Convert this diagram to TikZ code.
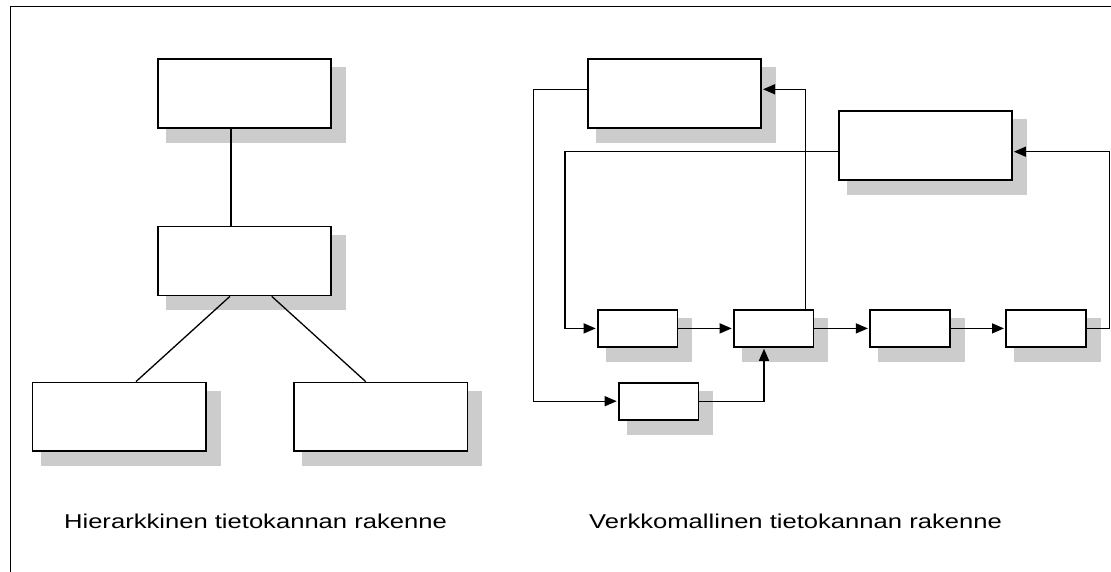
\documentclass[tikz,border=0pt]{standalone}
\usepackage{fontspec}
\setmainfont{Liberation Sans}
\usetikzlibrary{arrows.meta,backgrounds}
\definecolor{shadowgray}{HTML}{CCCCCC}
\tikzset{
  bigbox/.style={draw, fill=white, line width=1.8pt, inner sep=0pt, minimum width=173.4pt, minimum height=68.8pt},
  smallbox/.style={draw, fill=white, line width=1.8pt, inner sep=0pt, minimum width=79.8pt, minimum height=36.9pt},
  conn/.style={line width=1.3pt},
  arr/.style={line width=1.3pt, -{Triangle[length=12pt,width=10pt]}, shorten >=1pt},
  lbl/.style={inner sep=0pt, anchor=base, font=\fontsize{20}{24}\selectfont},
}
\newcommand{\dropshade}[1]{\fill[shadowgray] ([shift={(9pt,-9pt)}]#1.north west) rectangle ([shift={(14pt,-14pt)}]#1.south east);}
\begin{document}
\begin{tikzpicture}[x=1pt,y=-1pt]
\useasboundingbox (0,0) rectangle (1111,572);
% frame
\draw[line width=1.5pt] (10.7,572) -- (10.7,6.7) -- (1111,6.7);
% hierarchy
\node[bigbox] (h1) at (244.5,93.6) {};
\node[bigbox] (h2) at (244.5,261) {};
\node[bigbox] (h3) at (119.2,416.9) {};
\node[bigbox] (h4) at (380.8,416.9) {};
% network
\node[bigbox] (a) at (674.4,93.6) {};
\node[bigbox] (b) at (925.3,145.8) {};
\node[smallbox] (c) at (637.5,328.4) {};
\node[smallbox] (d) at (773.5,328.4) {};
\node[smallbox] (e) at (909.7,328.4) {};
\node[smallbox] (f) at (1045.8,328.4) {};
\node[smallbox] (g) at (658.5,401.2) {};
\begin{scope}[on background layer]
\dropshade{h1}\dropshade{h2}\dropshade{h3}\dropshade{h4}
\dropshade{a}\dropshade{b}\dropshade{c}\dropshade{d}\dropshade{e}\dropshade{f}\dropshade{g}
\end{scope}
% hierarchy connectors
\coordinate (hx) at (231,0);
\coordinate (h2l) at (230,0);
\coordinate (h3t) at (136,0);
\coordinate (h2r) at (271.7,0);
\coordinate (h4t) at (365.7,0);
\draw[conn] (h1.south -| hx) -- (h2.north -| hx);
\draw[conn] (h2.south -| h2l) -- (h3.north -| h3t);
\draw[conn] (h2.south -| h2r) -- (h4.north -| h4t);
% network connectors
\coordinate (ay) at (0,89.3);
\coordinate (by) at (0,151.7);
\coordinate (lx1) at (533.3,0);
\coordinate (lx2) at (565,0);
\coordinate (dx) at (805.7,0);
\coordinate (gx) at (764,0);
\coordinate (rx) at (1109.3,0);
\draw[arr] (a.west |- ay) -| (lx1 |- g.west) -- (g.west);
\draw[arr] (b.west |- by) -| (lx2 |- c.west) -- (c.west);
\draw[arr] (c.east) -- (d.west);
\draw[arr] (d.north -| dx) |- (a.east |- ay);
\draw[arr] (g.east) -| (d.south -| gx);
\draw[arr] (d.east) -- (e.west);
\draw[arr] (e.east) -- (f.west);
\draw[arr] (f.east) -| (rx |- by) -- (b.east |- by);
% labels
\node[lbl] (t1) at (255.5,528) {\scalebox{1.28}[1]{Hierarkkinen tietokannan rakenne}};
\node[lbl] (t2) at (795.5,528) {\scalebox{1.28}[1]{Verkkomallinen tietokannan rakenne}};
\end{tikzpicture}
\end{document}
